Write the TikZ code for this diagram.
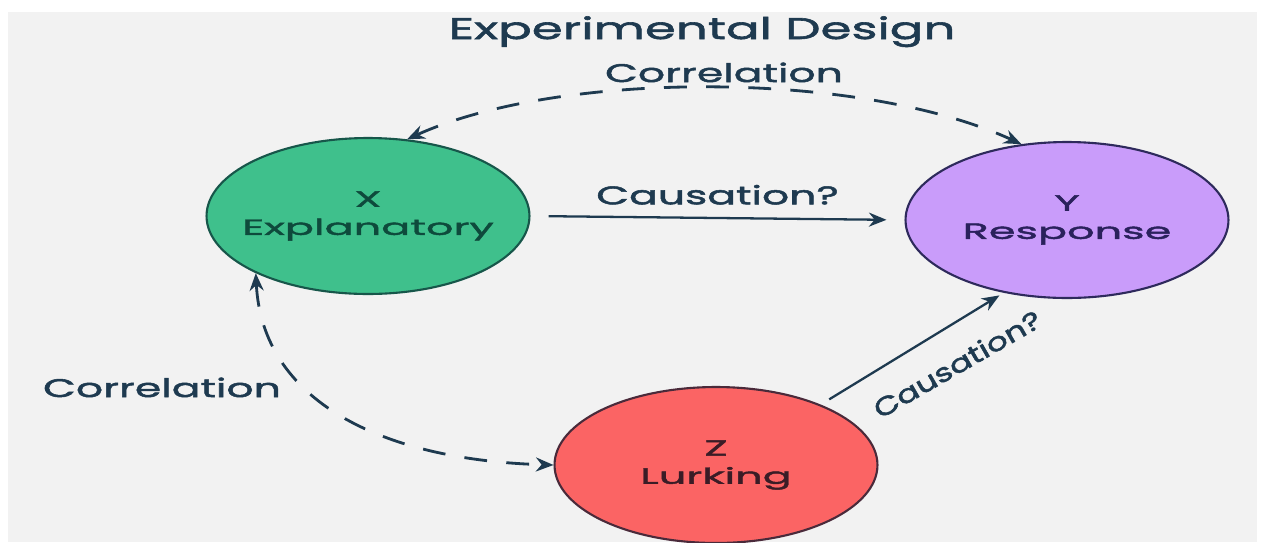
\documentclass[tikz,border=0pt]{standalone}
\usepackage{fontspec}
\setmainfont{Poppins}[FakeStretch=1.67, FakeBold=2]
\newfontfamily\nodefont{Poppins}[FakeStretch=1.96, FakeBold=2]
\newfontfamily\slopefont{Poppins}[FakeStretch=1.3, FakeBold=2]
\usepackage{tikz}
\usetikzlibrary{arrows.meta}
\usetikzlibrary{shapes.geometric}
\usetikzlibrary{positioning}
\definecolor{panelgray}{HTML}{F2F2F2}
\definecolor{inkblue}{HTML}{1E3A50}
\definecolor{xgreen}{HTML}{3FC08C}
\definecolor{xline}{HTML}{17564A}
\definecolor{xtext}{HTML}{0E4A3C}
\definecolor{ypurple}{HTML}{C99CFA}
\definecolor{yline}{HTML}{2E2A5C}
\definecolor{ytext}{HTML}{2A215C}
\definecolor{zred}{HTML}{FB6464}
\definecolor{zline}{HTML}{4A2A3A}
\definecolor{ztext}{HTML}{3A1C26}
\tikzstyle{varnode}=[ellipse, draw, line width=1.2pt, inner sep=0pt, minimum width=6.46cm, minimum height=3.12cm]
\tikzstyle{vartext}=[inner sep=0pt, align=center, font=\nodefont\fontsize{12.5}{16}\selectfont]
\tikzstyle{lbl}=[text=inkblue, inner sep=0pt, font=\fontsize{14.5}{16}\selectfont]
\tikzstyle{link}=[draw=inkblue, line width=1.3pt, -{Stealth[length=10pt,width=8pt]}]
\tikzstyle{corr}=[draw=inkblue, line width=1.6pt, dash pattern=on 13pt off 11pt, {Stealth[length=10pt,width=8pt]}-{Stealth[length=10pt,width=8pt]}]

\begin{document}
\begin{tikzpicture}[x=0.02cm, y=-0.02cm]
 \useasboundingbox (0,0) rectangle (1262,542);
 \fill[panelgray] (8,12) rectangle (1257,542);
 \begin{scope}
 \clip (8,12) rectangle (1257,542);
%
 \node[varnode, fill=xgreen, draw=xline] (X) at (368,216) {};
 \node[varnode, fill=ypurple, draw=yline] (Y) at (1067,220) {};
 \node[varnode, fill=zred, draw=zline] (Z) at (716,465) {};
 \end{scope}
 \node[vartext, text=xtext] (Xtext) at (X) {X\\Explanatory};
 \node[vartext, text=ytext] (Ytext) at (Y) {Y\\Response};
 \node[vartext, text=ztext] (Ztext) at (Z) {Z\\Lurking};
%
 \node[lbl, anchor=base, font=\fontsize{17}{19}\selectfont] (title) at (702,39) {Experimental Design};
 \node[lbl, anchor=base] (corrtop) at (724,82) {Correlation};
 \node[lbl, anchor=base] (corrleft) at (162,397) {Correlation};
%
 \draw[link, shorten <=18*0.02cm, shorten >=18*0.02cm] (X.east) -- (Y.west)
  node[lbl, midway, above=7pt] (causxy) {Causation?};
 \draw[link, shorten <=10*0.02cm, shorten >=5*0.02cm] (Z.30) -- (Y.229);
 \node[lbl, rotate=30, font=\slopefont\fontsize{14.5}{16}\selectfont] (causzy) at (957,364) {Causation?};
%
 \draw[corr] (X.63) .. controls (560,70) and (860,70) .. (Y.121);
 \draw[corr] (X.207) .. controls (262,400) and (380,460) .. (Z.180);
\end{tikzpicture}
\end{document}
